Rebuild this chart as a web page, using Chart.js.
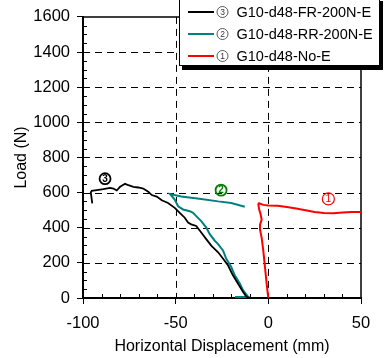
<!DOCTYPE html>
<html>
<head>
<meta charset="utf-8">
<script src="https://cdn.jsdelivr.net/npm/chart.js@4.4.0/dist/chart.umd.min.js"></script>
<style>
  html, body { margin: 0; padding: 0; background: #fff; }
  #wrap { width: 388px; height: 358px; }
</style>
</head>
<body>
<div id="wrap"><canvas id="loadChart" width="388" height="358"></canvas></div>
<script>
// series names and circled tags, in legend order
const seriesNames = ['G10-d48-FR-200N-E', 'G10-d48-RR-200N-E', 'G10-d48-No-E'];
const seriesTags = ['3', '2', '1'];

// (3) G10-d48-FR-200N-E
const frDisp = [-95.0, -95.8, -95.3, -92.6, -89.0, -85.4, -83.6, -81.8, -80.0, -77.3, -75.5, -72.8, -70.2,
  -67.5, -64.8, -62.9, -60.2, -57.5, -54.1, -50.5, -47.8, -45.1, -43.3, -41.6, -38.9, -36.2, -33.5,
  -30.8, -27.1, -24.4, -21.7, -19.1, -16.4, -13.7, -11.9, -10.8, -5.0, -0.5];
const frLoad = [539, 601, 610, 614, 620, 627, 623, 612, 633, 650, 642, 633, 629,
  623, 605, 586, 577, 556, 541, 513, 485, 457, 429, 419, 410, 373, 335,
  298, 260, 223, 185, 129, 83, 36, 8, 2, 1, 0];

// (2) G10-d48-RR-200N-E
const rrDisp = [-18.0, -10.5, -11.0, -13.7, -15.4, -18.1, -20.0, -22.7, -24.4, -27.1, -28.9, -31.6, -33.5,
  -36.2, -38.9, -40.6, -42.4, -46.0, -48.7, -50.5, -53.0, -47.0, -36.2, -27.1, -20.0, -12.7];
const rrLoad = [5, 5, 8, 45, 83, 129, 176, 223, 269, 307, 326, 363, 401,
  438, 466, 485, 494, 504, 522, 560, 592, 578, 564, 550, 541, 519];

// (1) G10-d48-No-E
const noDisp = [0, -0.9, -1.8, -2.7, -3.6, -4.5, -4.5, -3.6, -4.1, -4.9, -5.4, -5.0, -2.7,
  0, 5, 10, 15, 20, 25, 30, 35, 40, 45, 50];
const noLoad = [0, 81, 174, 268, 342, 390, 418, 446, 474, 502, 533, 539, 530,
  526, 525, 518, 510, 500, 490, 484, 482, 487, 490, 490];

const dispTicks = [-100, -50, 0, 50];
const loadTicks = [0, 200, 400, 600, 800, 1000, 1200, 1400, 1600];

// circled tags placed next to each curve (displacement, load)
const tagAt = [[-88.1, 679], [-25.5, 614], [32.4, 564]];

const lineColors = ['#000000', '#008080', '#ff0000'];
const tagColors = ['#000000', '#008000', '#ff0000'];
const FONT = '"Liberation Sans", Arial, sans-serif';

function toPoints(xs, ys) {
  return xs.map((v, i) => ({ x: v, y: ys[i] }));
}

function circledTag(ctx, cx, cy, r, digit, color, lw, fontSize, bold) {
  ctx.save();
  ctx.strokeStyle = color;
  ctx.fillStyle = color;
  ctx.lineWidth = lw;
  ctx.beginPath();
  ctx.arc(cx, cy, r, 0, Math.PI * 2);
  ctx.stroke();
  ctx.font = (bold ? 'bold ' : '') + fontSize + 'px ' + FONT;
  ctx.textAlign = 'center';
  ctx.textBaseline = 'middle';
  ctx.fillText(digit, cx, cy + 0.5);
  ctx.restore();
}

const decor = {
  id: 'decor',
  beforeDatasetsDraw(chart) {
    const { ctx, chartArea: a, scales: { x, y } } = chart;
    ctx.save();
    ctx.strokeStyle = '#000';
    ctx.lineWidth = 1;

    // dashed grid
    ctx.setLineDash([7, 5]);
    loadTicks.slice(1, -1).forEach(v => {
      const py = Math.round(y.getPixelForValue(v)) + 0.5;
      ctx.beginPath(); ctx.moveTo(a.left, py); ctx.lineTo(a.right, py); ctx.stroke();
    });
    dispTicks.slice(1, -1).forEach(v => {
      const px = Math.round(x.getPixelForValue(v)) + 0.5;
      ctx.beginPath(); ctx.moveTo(px, a.top); ctx.lineTo(px, a.bottom); ctx.stroke();
    });
    ctx.setLineDash([]);

    // minor ticks pointing into the plot
    for (let v = 50; v < 1600; v += 50) {
      const py = Math.round(y.getPixelForValue(v)) + 0.5;
      ctx.beginPath(); ctx.moveTo(a.left, py); ctx.lineTo(a.left + 4, py); ctx.stroke();
    }
    for (let v = -90; v < 50; v += 10) {
      const px = Math.round(x.getPixelForValue(v)) + 0.5;
      ctx.beginPath(); ctx.moveTo(px, a.bottom); ctx.lineTo(px, a.bottom - 4); ctx.stroke();
    }

    // top and right frame
    ctx.lineWidth = 1.5;
    ctx.beginPath();
    ctx.moveTo(a.left, a.top); ctx.lineTo(a.right, a.top); ctx.lineTo(a.right, a.bottom);
    ctx.stroke();
    ctx.restore();
  },
  afterDraw(chart) {
    const { ctx, scales: { x, y } } = chart;

    // tags on the curves
    tagAt.forEach((p, i) => {
      const thin = i === 2;
      circledTag(ctx, x.getPixelForValue(p[0]), y.getPixelForValue(p[1]),
        thin ? 6 : 5.5, seriesTags[i], tagColors[i], thin ? 1.2 : 1.8, 10, !thin);
    });

    // legend box with shadow
    const bx = 179, by = -2, bw = 201, bh = 68;
    ctx.save();
    ctx.fillStyle = '#000';
    ctx.fillRect(bx + 3, by + 3, bw, bh + 1);
    ctx.fillStyle = '#fff';
    ctx.fillRect(bx, by, bw, bh);
    ctx.strokeStyle = '#000';
    ctx.lineWidth = 1;
    ctx.strokeRect(bx + 0.5, by + 0.5, bw - 1, bh - 1);

    const rows = [12, 34, 56];
    chart.data.datasets.forEach((ds, i) => {
      const ry = rows[i];
      ctx.strokeStyle = ds.borderColor;
      ctx.lineWidth = 2;
      ctx.beginPath(); ctx.moveTo(188, ry); ctx.lineTo(214, ry); ctx.stroke();
      circledTag(ctx, 222.5, ry, 5.5, seriesTags[i], '#333', 0.8, 8.5, false);
      ctx.fillStyle = '#000';
      ctx.font = '14.5px ' + FONT;
      ctx.textAlign = 'left';
      ctx.textBaseline = 'middle';
      ctx.fillText(ds.label, 236.5, ry + 0.5);
    });
    ctx.restore();
  }
};

new Chart(document.getElementById('loadChart'), {
  type: 'scatter',
  data: {
    datasets: [
      { label: seriesNames[0], data: toPoints(frDisp, frLoad), borderColor: lineColors[0], borderWidth: 1.8 },
      { label: seriesNames[1], data: toPoints(rrDisp, rrLoad), borderColor: lineColors[1], borderWidth: 2 },
      { label: seriesNames[2], data: toPoints(noDisp, noLoad), borderColor: lineColors[2], borderWidth: 2 }
    ].map(d => Object.assign(d, { showLine: true, pointRadius: 0, tension: 0, fill: false }))
  },
  options: {
    responsive: false,
    animation: false,
    devicePixelRatio: 1,
    layout: { padding: { top: 13, right: 27, left: 0, bottom: 0 } },
    plugins: { legend: { display: false }, tooltip: { enabled: false } },
    scales: {
      x: {
        type: 'linear',
        min: -100,
        max: 50,
        afterFit(scale) { scale.height = 60; },
        afterBuildTicks(scale) { scale.ticks = dispTicks.map(v => ({ value: v })); },
        ticks: { color: '#000', font: { family: FONT, size: 16.5 }, padding: 10, maxRotation: 0,
          callback: v => String(v) },
        grid: { drawOnChartArea: false, drawTicks: true, tickLength: 6, color: '#000', lineWidth: 1 },
        border: { display: true, color: '#000', width: 2 },
        title: { display: true, text: 'Horizontal Displacement (mm)', color: '#000',
          font: { family: FONT, size: 16 }, padding: { top: 0, bottom: 2 } }
      },
      y: {
        type: 'linear',
        min: 0,
        max: 1600,
        afterFit(scale) { scale.width = 83; },
        afterBuildTicks(scale) { scale.ticks = loadTicks.map(v => ({ value: v })); },
        ticks: { color: '#000', font: { family: FONT, size: 16.5 }, padding: 7,
          callback: v => String(v) },
        grid: { drawOnChartArea: false, drawTicks: true, tickLength: 6, color: '#000', lineWidth: 1 },
        border: { display: true, color: '#000', width: 2 },
        title: { display: true, text: 'Load (N)', color: '#000',
          font: { family: FONT, size: 16 }, padding: { top: 12, bottom: 0 } }
      }
    }
  },
  plugins: [decor]
});
</script>
</body>
</html>
